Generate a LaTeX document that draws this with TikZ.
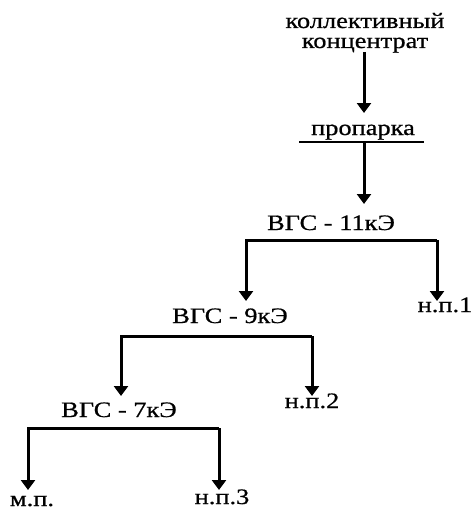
\documentclass[tikz,border=0pt]{standalone}
\usepackage{fontspec}
\setmainfont{Liberation Serif}[FakeStretch=1.2,FakeBold=0.7]
\usetikzlibrary{arrows.meta}
\begin{document}
\begin{tikzpicture}[x=1pt,y=-1pt,
  lbl/.style={anchor=base,inner sep=0pt,font=\fontsize{22}{22}\selectfont},
  ln/.style={line width=3pt},
  arr/.style={ln,-{Triangle[width=14pt,length=10pt]}}]
\useasboundingbox (0,0) rectangle (473,511);
% source and steaming step
\node[lbl] (src1) at (365,28) {коллективный};
\node[lbl] (src2) at (365,48) {концентрат};
\node[lbl] (steam) at (363,135) {пропарка};
\draw[line width=2.4pt] (299,142) coordinate (barL) -- (424,142) coordinate (barR);
\coordinate (a1s) at (364,52);
\coordinate (a1e) at (364,113);
\draw[arr] (a1s) -- (a1e);
\coordinate (a2s) at (364,142);
\coordinate (a2e) at (364,204);
\draw[arr] (a2s) -- (a2e);
% first separation stage
\node[lbl] (s11) at (331,230) {ВГС - 11кЭ};
\coordinate (b1l) at (246,240);
\coordinate (b1r) at (437,240);
\coordinate (t1l) at (246,301);
\coordinate (t1r) at (437,301);
\draw[arr] (b1r) -- (t1r);
\draw[arr] (b1r) -- (b1l) -- (t1l);
\node[lbl] (np1) at (445,312) {н.п.1};
% second separation stage
\node[lbl] (s9) at (230,323) {ВГС - 9кЭ};
\coordinate (b2l) at (121,336);
\coordinate (b2r) at (312,336);
\coordinate (t2l) at (121,396);
\coordinate (t2r) at (312,396);
\draw[arr] (b2r) -- (t2r);
\draw[arr] (b2r) -- (b2l) -- (t2l);
\node[lbl] (np2) at (312,408) {н.п.2};
% third separation stage
\node[lbl] (s7) at (119,417) {ВГС - 7кЭ};
\coordinate (b3l) at (28,428);
\coordinate (b3r) at (219,428);
\coordinate (t3l) at (28,490);
\coordinate (t3r) at (219,490);
\draw[arr] (b3r) -- (t3r);
\draw[arr] (b3r) -- (b3l) -- (t3l);
\node[lbl] (mp) at (32,506) {м.п.};
\node[lbl] (np3) at (222,504) {н.п.3};
\end{tikzpicture}
\end{document}
